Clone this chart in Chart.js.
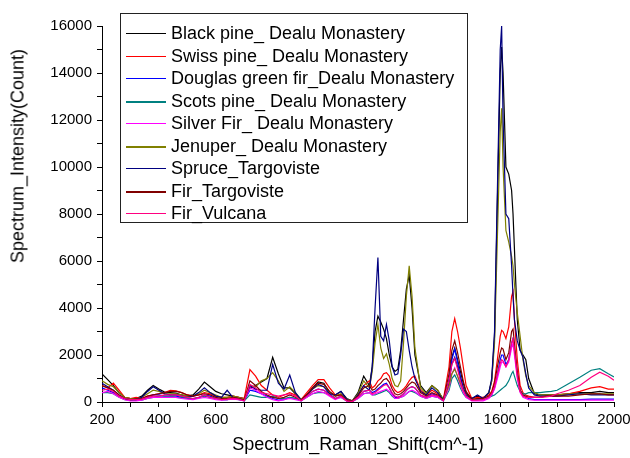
<!DOCTYPE html>
<html>
<head>
<meta charset="utf-8">
<script src="https://cdn.jsdelivr.net/npm/chart.js@4.4.1/dist/chart.umd.min.js"></script>
<style>
  body { margin: 0; background: #fff; font-family: "Liberation Sans", Arial, sans-serif; }
  #wrap { position: relative; width: 630px; height: 458px; }
  #ytitle { position: absolute; left: 18px; top: 156px; transform: translate(-50%, -50%) rotate(-90deg);
            font-size: 18px; white-space: nowrap; color: #000; }
  #legend { position: absolute; left: 120px; top: 13px; width: 346px; height: 208px;
            border: 1px solid #222; background: #fff; }
  .row { position: absolute; left: 0; height: 22px; line-height: 22px; font-size: 18px; white-space: nowrap; color: #000; }
  .swatch { position: absolute; left: 5px; top: 11px; width: 40px; }
  .txt { position: absolute; left: 50px; top: 0; }
</style>
</head>
<body>
<div id="wrap">
  <canvas id="raman" width="630" height="458"></canvas>
  <div id="ytitle">Spectrum_Intensity(Count)</div>
  <div id="legend"></div>
</div>
<script>
// Raman shift (cm^-1), shared by every series
const shift = [
  200,220,240,260,280,300,320,340,360,380,400,420,440,460,480,500,520,540,560,580,
  600,620,640,660,680,700,720,740,760,780,800,820,840,860,880,900,920,940,960,980,
  1000,1020,1040,1060,1080,1100,
  1120,1140,1150,1160,1170,1180,1190,1200,1210,1220,1230,1240,1250,1260,1270,1280,1290,1300,
  1320,1340,1360,1380,1400,1420,1430,1440,1450,1460,1470,1480,1500,1520,1540,1560,
  1570,1580,1590,1600,1605,1610,1620,1630,1640,1645,1650,1660,1670,1680,1690,1700,
  1720,1740,1760,1780,1800,1840,1880,1920,1950,1980,2000
];

const blackPine = [
  1200,950,700,400,200,150,150,250,500,700, 550,420,400,380,300,250,300,550,850,650,
  450,350,300,250,200,150,600,700,850,1000, 1900,1200,600,600,350,100,300,600,850,800,
  400,300,450,150,50,400,
  1100,700,1500,3000,3650,3400,3100,2700,2000,1500,1300,1400,2200,3500,4800,5400,4000,2000,
  700,400,700,500,100,800,1900,2300,1800,1300,800,400,150,250,150,400,
  900,2800,8500,14000,15100,14000,10000,9700,9000,8000,6500,3500,2200,2000,1800,1000,
  350,300,300,300,300,350,400,400,450,400,400
];
const swissPine = [
  700,600,800,500,200,150,200,150,250,300, 350,400,500,480,400,300,250,300,400,350,
  250,200,200,250,200,150,1380,1100,700,500, 300,200,300,400,300,100,400,700,950,950,
  600,300,300,100,50,300,
  700,900,600,700,900,1000,1200,1250,1100,700,500,400,450,550,700,900,1050,1100,
  500,300,500,350,100,1500,3000,3550,3000,2300,1500,700,150,200,200,300,
  450,900,1800,2800,3050,3000,2700,3200,4500,4700,3500,1800,700,400,300,250,
  200,200,250,300,300,350,450,600,650,550,550
];
const douglasFir = [
  600,500,400,250,150,100,100,120,200,300, 300,250,250,250,200,150,150,200,300,250,
  150,100,100,150,120,50,500,450,350,250, 150,80,100,200,150,50,250,450,550,500,
  350,150,250,50,20,200,
  450,500,400,450,550,650,750,800,600,350,200,200,250,350,500,600,650,600,
  300,200,350,250,50,900,1800,2250,1700,1100,600,300,100,100,100,200,
  300,600,1200,1800,2000,2000,1600,1800,2500,2700,2200,1200,500,300,200,150,
  100,100,100,100,100,100,100,120,120,120,120
];
const scotsPine = [
  400,400,350,200,100,80,80,80,150,200, 250,250,250,200,180,150,120,180,250,200,
  150,100,100,150,100,50,300,250,200,200, 250,150,150,200,150,50,200,350,400,400,
  300,150,200,50,20,150,
  350,400,300,300,350,400,450,500,400,250,150,150,200,250,350,450,450,400,
  250,150,250,200,50,500,1000,1150,900,600,350,200,80,100,150,200,
  250,300,400,500,550,600,700,900,1200,1300,1100,700,450,350,350,400,
  400,400,430,450,500,780,1050,1350,1420,1200,1070
];
const silverFir = [
  400,450,350,200,100,50,50,80,150,200, 200,200,200,200,150,120,100,150,200,150,
  100,80,100,120,100,50,600,500,350,200, 100,50,100,150,100,50,200,350,450,400,
  250,100,200,50,20,150,
  350,400,300,350,400,450,500,550,450,300,150,150,200,250,350,450,500,450,
  250,150,250,200,50,600,1200,1450,1100,700,400,200,50,50,50,150,
  300,550,1000,1500,1700,1700,1500,1700,2300,2500,2000,1000,400,200,150,100,
  80,80,80,80,80,80,80,80,80,80,80
];
const jenuper = [
  900,750,650,400,200,150,120,200,350,500, 450,350,350,350,300,250,250,350,500,400,
  300,200,200,250,200,100,700,650,900,1000, 1250,900,450,650,400,100,300,550,700,650,
  400,250,350,100,50,350,
  900,600,1300,2500,3300,2300,1850,2050,1600,1000,700,650,900,2500,4500,5800,4500,2300,
  600,350,700,500,100,700,1200,1400,1100,800,500,300,100,150,150,400,
  900,2500,7000,11500,12500,10000,7300,6800,6200,5800,5000,3800,2800,1800,1100,700,
  400,300,300,300,300,350,350,350,350,350,350
];
const spruceTargoviste = [
  800,650,500,300,150,100,100,200,450,650, 500,350,300,300,250,200,250,400,600,400,
  250,200,500,200,150,80,700,550,500,500, 1600,800,550,1150,400,80,300,550,750,650,
  350,300,450,100,30,300,
  700,500,1500,4000,6150,2800,2600,3300,2600,1500,1150,1200,2000,3100,3000,2200,1500,1000,
  450,300,600,400,80,900,1600,1900,1500,1000,600,300,150,300,150,400,
  1000,3000,9000,15000,16000,12000,8000,7800,5800,4500,3500,2600,2200,1900,1200,600,
  300,250,250,250,250,300,350,300,300,300,300
];
const firTargoviste = [
  700,600,500,300,150,100,120,150,250,300, 350,400,450,450,400,300,250,300,350,300,
  200,150,150,200,150,80,900,700,450,300, 200,150,200,300,200,80,300,600,800,750,
  450,250,300,80,30,250,
  600,700,500,550,700,800,950,1000,850,550,350,300,350,450,600,750,850,800,
  400,250,400,300,80,1200,2200,2600,2100,1500,900,450,100,150,150,250,
  400,800,1500,2100,2300,2250,1800,2100,3000,3100,2500,1300,500,300,250,200,
  200,200,250,250,250,250,300,350,350,300,300
];
const firVulcana = [
  500,550,450,250,150,100,100,120,200,250, 250,300,300,300,250,200,150,200,300,200,
  150,100,120,150,120,50,750,600,400,350, 300,250,300,350,250,50,250,450,550,500,
  300,150,250,50,20,200,
  450,500,350,400,500,600,700,750,600,400,250,200,250,350,500,600,650,600,
  300,200,300,250,50,900,1600,1850,1400,900,500,250,80,80,100,200,
  350,650,1200,1650,1800,1750,1500,1800,2500,2700,2200,1100,450,250,200,200,
  200,200,220,250,350,500,700,1050,1270,1100,930
];

const seriesNames = [
  "Black pine_ Dealu Monastery",
  "Swiss pine_ Dealu Monastery",
  "Douglas green fir_Dealu Monastery",
  "Scots pine_ Dealu Monastery",
  "Silver Fir_ Dealu Monastery",
  "Jenuper_ Dealu Monastery",
  "Spruce_Targoviste",
  "Fir_Targoviste",
  "Fir_Vulcana"
];
const seriesValues = [blackPine, swissPine, douglasFir, scotsPine, silverFir, jenuper,
  spruceTargoviste, firTargoviste, firVulcana];
const seriesColors = ["#000000", "#FF0000", "#0000FF", "#008080", "#FF00FF", "#808000",
  "#000080", "#800000", "#FF0080"];
const legendLineWidths = [1, 1, 1, 2, 1, 2, 1, 2, 1];

const FONT = "'Liberation Sans', Arial, sans-serif";

const datasets = seriesValues.map((vals, i) => ({
  label: seriesNames[i],
  data: vals.map((v, j) => ({ x: shift[j], y: v })),
  borderColor: seriesColors[i],
  backgroundColor: seriesColors[i],
  borderWidth: 1.2,
  pointRadius: 0,
  tension: 0,
  fill: false,
  order: seriesValues.length - i // later series drawn on top, like the original
}));

const chart = new Chart(document.getElementById("raman"), {
  type: "line",
  data: { datasets },
  options: {
    responsive: false,
    animation: false,
    layout: { padding: { top: 26, right: 16, left: 0, bottom: 0 } },
    plugins: { legend: { display: false }, tooltip: { enabled: false } },
    scales: {
      x: {
        type: "linear",
        min: 200,
        max: 2000,
        ticks: {
          stepSize: 100,
          autoSkip: false,
          maxRotation: 0,
          padding: 4,
          color: "#000",
          font: { family: FONT, size: 15 },
          callback: (v) => (v % 200 === 0 ? v : "")
        },
        grid: { drawOnChartArea: false, tickLength: 5, color: "#000" },
        border: { color: "#000", width: 1 },
        title: {
          display: true,
          text: "Spectrum_Raman_Shift(cm^-1)",
          color: "#000",
          padding: { top: 4, bottom: 2 },
          font: { family: FONT, size: 18 }
        },
        afterFit: (s) => { s.height = 56; s.paddingLeft = 0; s.paddingRight = 0; }
      },
      y: {
        min: 0,
        max: 16000,
        ticks: {
          stepSize: 1000,
          autoSkip: false,
          padding: 5,
          color: "#000",
          font: { family: FONT, size: 15 },
          callback: (v) => (v % 2000 === 0 ? v : "")
        },
        grid: { drawOnChartArea: false, tickLength: 5, color: "#000" },
        border: { color: "#000", width: 1 },
        afterFit: (s) => { s.width = 102; }
      }
    }
  }
});

// boxed legend inside the plot, built from the chart's datasets
const legend = document.getElementById("legend");
chart.data.datasets.forEach((ds, i) => {
  const row = document.createElement("div");
  row.className = "row";
  row.style.top = Math.round(8 + 22.5 * i) + "px";
  const sw = document.createElement("div");
  sw.className = "swatch";
  sw.style.height = legendLineWidths[i] + "px";
  sw.style.backgroundColor = ds.borderColor;
  const txt = document.createElement("span");
  txt.className = "txt";
  txt.textContent = ds.label;
  row.appendChild(sw);
  row.appendChild(txt);
  legend.appendChild(row);
});
</script>
</body>
</html>
